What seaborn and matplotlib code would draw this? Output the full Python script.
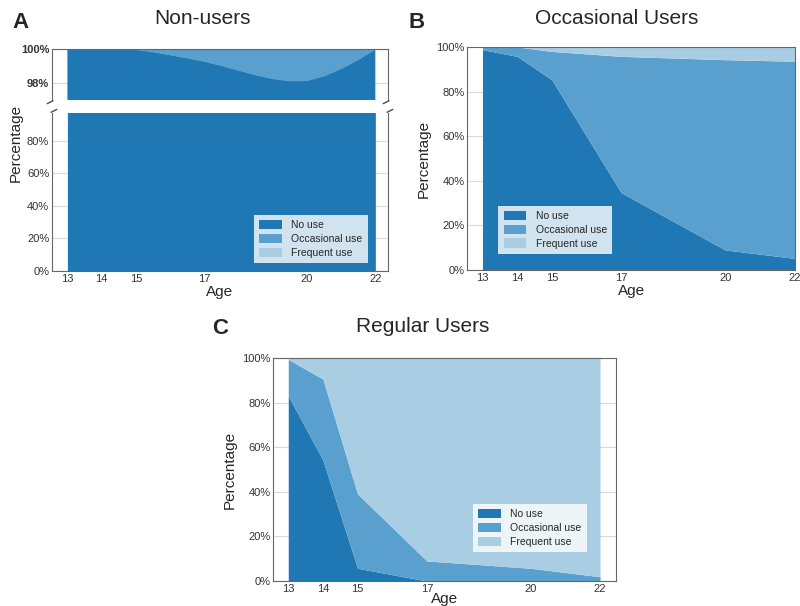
import numpy as np
import pandas as pd
import seaborn as sns
import matplotlib.pyplot as plt
from matplotlib.ticker import PercentFormatter

# ---- data (percent of group) ----
ages = [13, 14, 15, 17, 20, 22]
age_ticks = [13, 14, 15, 17, 20, 22]
labels = ["No use", "Occasional use", "Frequent use"]

# Non-users: read at half-year steps to follow the smooth curve of the figure
ages_a = [13, 13.5, 14, 14.5, 15, 15.5, 16, 16.5, 17, 17.5, 18, 18.5, 19, 19.5, 20, 20.5, 21, 21.5, 22]
nonusers_no = [100, 100, 100, 99.99, 99.96, 99.83, 99.65, 99.47, 99.27, 99.02, 98.75, 98.47, 98.25, 98.12, 98.14, 98.42, 98.85, 99.38, 100]
nonusers_occ = [100 - v for v in nonusers_no]
nonusers_freq = [0] * len(ages_a)

# Occasional users
occ_no = [98.8, 95.8, 85.3, 34.7, 9.0, 5.2]
occ_occ = [1.0, 4.2, 12.7, 61.1, 85.3, 88.4]
occ_freq = [0.2, 0.0, 2.0, 4.2, 5.7, 6.4]

# Regular users
reg_no = [83.1, 54.3, 5.7, 0.0, 0.0, 0.0]
reg_occ = [16.4, 36.4, 33.4, 9.0, 5.7, 1.9]
reg_freq = [0.5, 9.3, 60.9, 91.0, 94.3, 98.1]

colors = ["#1f77b4", "#5aa0cf", "#a9cee4"]

sns.set_style("whitegrid", {"axes.edgecolor": ".4", "grid.color": ".85"})
plt.rcParams['font.family'] = ['Liberation Sans', 'DejaVu Sans']
plt.rcParams['xtick.color'] = '.2'
plt.rcParams['ytick.color'] = '.2'

fig = plt.figure(figsize=(8, 6.06), dpi=100)


def stack(ax, x, no, occ, freq):
    ax.stackplot(x, no, occ, freq, colors=colors, labels=labels, linewidth=0)
    ax.grid(axis="x", visible=False)
    ax.set_xticks(age_ticks)
    ax.tick_params(axis="both", labelsize=8, pad=2, length=0)
    ax.yaxis.set_major_formatter(PercentFormatter(decimals=0))


def legend(ax, loc, anchor):
    ax.legend(loc=loc, bbox_to_anchor=anchor, borderaxespad=0, fontsize=7.5,
              frameon=True, fancybox=False, framealpha=0.8, edgecolor="none",
              handlelength=2.2, handleheight=1.0, borderpad=0.5, labelspacing=0.35,
              handletextpad=0.9)


# ---- A: Non-users (broken y axis) ----
ax_top = fig.add_axes([0.065, 0.835, 0.42, 0.0842])
ax_bot = fig.add_axes([0.065, 0.5528, 0.42, 0.2607])
for ax in (ax_top, ax_bot):
    stack(ax, ages_a, nonusers_no, nonusers_occ, nonusers_freq)
    ax.set_xlim(12.55, 22.37)
ax_top.set_ylim(97, 100)
ax_top.set_yticks([98, 100])
ax_top.set_xticklabels([])
for t in ax_top.get_yticklabels():
    t.set_fontweight("bold")
ax_top.spines["bottom"].set_visible(False)
ax_bot.set_ylim(0, 97.2)
ax_bot.set_yticks([0, 20, 40, 60, 80])
ax_bot.spines["top"].set_visible(False)
ax_bot.set_xlabel("Age", fontsize=11, labelpad=1)
legend(ax_bot, "lower right", (0.94, 0.05))

d = 0.006
kw = dict(transform=fig.transFigure, color=".3", lw=1, clip_on=False)
for xx in (0.065, 0.485):
    fig.add_artist(plt.Line2D([xx - d, xx + d * 0.2], [0.835 - d, 0.835 - d * 0.2], **kw))
    fig.add_artist(plt.Line2D([xx - d * 0.2, xx + d], [0.8135 + d * 0.2, 0.8135 + d], **kw))

fig.text(0.02, 1 - 143 / 606, "Percentage", rotation=90, ha="center", va="center", fontsize=11)
fig.text(203 / 800, 1 - 18 / 606, "Non-users", ha="center", va="center", fontsize=15)
fig.text(0.015, 1 - 22 / 606, "A", ha="left", va="center", fontsize=16, fontweight="bold")

# ---- B: Occasional users ----
ax_b = fig.add_axes([0.584, 0.5545, 0.41, 0.368])
stack(ax_b, ages, occ_no, occ_occ, occ_freq)
ax_b.set_xlim(12.56, 22.02)
ax_b.set_ylim(0, 100)
ax_b.set_xlabel("Age", fontsize=11, labelpad=1)
ax_b.set_ylabel("Percentage", fontsize=11, labelpad=4)
legend(ax_b, "lower left", (0.095, 0.072))
fig.text(617 / 800, 1 - 18 / 606, "Occasional Users", ha="center", va="center", fontsize=15)
fig.text(0.51, 1 - 22 / 606, "B", ha="left", va="center", fontsize=16, fontweight="bold")

# ---- C: Regular users ----
ax_c = fig.add_axes([0.3417, 0.0413, 0.4283, 0.3675])
stack(ax_c, ages, reg_no, reg_occ, reg_freq)
ax_c.set_xlim(12.57, 22.46)
ax_c.set_ylim(0, 100)
ax_c.set_xlabel("Age", fontsize=11, labelpad=-1)
ax_c.set_ylabel("Percentage", fontsize=11, labelpad=4)
legend(ax_c, "lower right", (0.915, 0.13))
fig.text(423 / 800, 1 - 327 / 606, "Regular Users", ha="center", va="center", fontsize=15)
fig.text(0.265, 1 - 329 / 606, "C", ha="left", va="center", fontsize=16, fontweight="bold")

fig.savefig("out.png", dpi=100)
